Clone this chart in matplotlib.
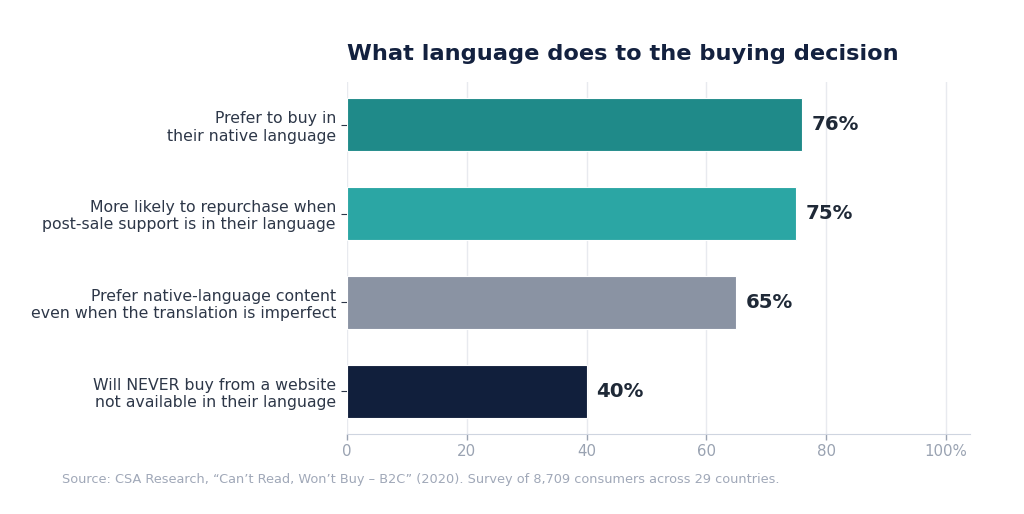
import matplotlib
matplotlib.use("Agg")
import matplotlib.pyplot as plt
from matplotlib.ticker import FuncFormatter

plt.rcParams["font.family"] = ["DejaVu Sans"]

categories = [
    "Prefer to buy in\ntheir native language",
    "More likely to repurchase when\npost-sale support is in their language",
    "Prefer native-language content\neven when the translation is imperfect",
    "Will NEVER buy from a website\nnot available in their language",
]
values = [76, 75, 65, 40]
colors = ["#1f8a89", "#2ba6a4", "#8a93a3", "#111f3c"]
x_ticks = [0, 20, 40, 60, 80, 100]

title = "What language does to the buying decision"
source = ("Source: CSA Research, \u201cCan\u2019t Read, Won\u2019t Buy \u2013 B2C\u201d (2020). "
          "Survey of 8,709 consumers across 29 countries.")

fig = plt.figure(figsize=(10.24, 5.14), dpi=100)
ax = fig.add_axes([347 / 1024, 1 - 434 / 514, (970 - 347) / 1024, (434 - 82) / 514])

pos = list(range(len(categories)))
ax.barh(pos, values, height=0.6, color=colors, edgecolor="white", linewidth=0.8, zorder=3)
for p, v in zip(pos, values):
    ax.text(v + 1.6, p, f"{v}%", va="center", ha="left", fontsize=14.2,
            fontweight="bold", color="#1f2937")

ax.set_ylim(3.48, -0.48)
ax.set_xlim(0, 104)
ax.set_yticks(pos)
ax.set_yticklabels(categories, fontsize=11.3, color="#2d3748")
ax.set_xticks(x_ticks)
ax.xaxis.set_major_formatter(FuncFormatter(lambda v, _: f"{v:.0f}%" if v == 100 else f"{v:.0f}"))
ax.tick_params(axis="x", colors="#9aa3b2", labelsize=10.8, length=4, width=1)
ax.tick_params(axis="y", length=4, width=0.8, color="#2d3748", pad=4)

ax.grid(axis="x", color="#e8eaef", linewidth=1, zorder=0)
for s in ["top", "right", "left"]:
    ax.spines[s].set_visible(False)
ax.spines["bottom"].set_color("#cfd5e0")

ax.set_title(title, loc="left", fontsize=16.2, fontweight="bold", color="#13213f", pad=16)
fig.text(62 / 1024, 1 - 480 / 514, source, fontsize=9.3, color="#a0a8b8", va="center", ha="left")

fig.savefig("out.png", dpi=100)
